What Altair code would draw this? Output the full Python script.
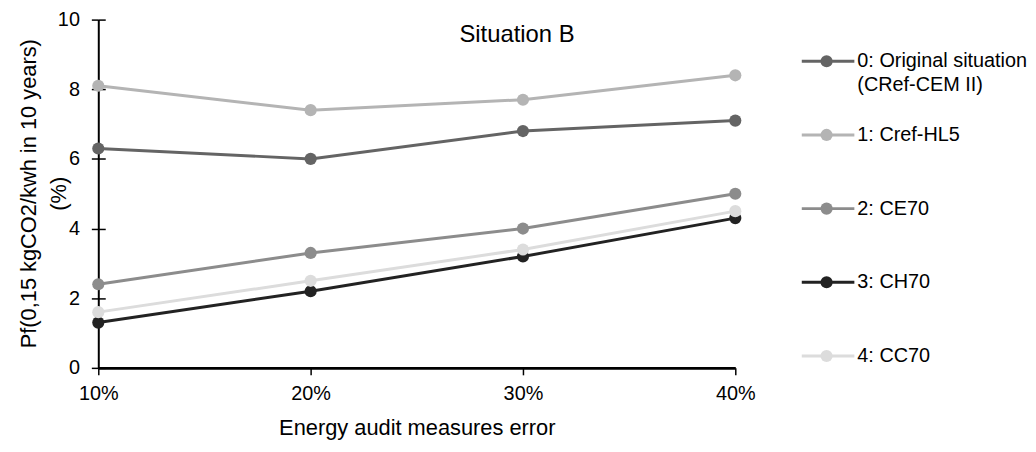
import altair as alt
import pandas as pd

# ---- data ----
errors = [10, 20, 30, 40]
series = ["0: Original situation", "1: Cref-HL5", "2: CE70", "3: CH70", "4: CC70"]
legend_lines = [["0: Original situation", "(CRef-CEM II)"], ["1: Cref-HL5"], ["2: CE70"], ["3: CH70"], ["4: CC70"]]
s0 = [6.3, 6.0, 6.8, 7.1]
s1 = [8.1, 7.4, 7.7, 8.4]
s2 = [2.4, 3.3, 4.0, 5.0]
s3 = [1.3, 2.2, 3.2, 4.3]
s4 = [1.6, 2.5, 3.4, 4.5]
colors = ["#646464", "#b4b4b4", "#8c8c8c", "#222222", "#dcdcdc"]
y_ticks = [0, 2, 4, 6, 8, 10]

rows = []
for i, (name, vals) in enumerate(zip(series, [s0, s1, s2, s3, s4])):
    for e, v in zip(errors, vals):
        rows.append({"series": name, "order": i, "error": e, "value": v})
df = pd.DataFrame(rows)

leg_df = pd.DataFrame({"series": series, "label": legend_lines, "order": list(range(5))})

FONT = "Liberation Sans"
LBL = 20
TTL = 22
DOT = 150
color_scale = alt.Scale(domain=series, range=colors)

x_enc = alt.X("error:Q", scale=alt.Scale(domain=[10, 40], nice=False, zero=False),
              axis=alt.Axis(values=errors, labelExpr="datum.value + '%'", title="Energy audit measures error",
                            grid=False, domainColor="black", domainWidth=3, tickColor="black", tickWidth=1.5,
                            tickSize=7, labelFontSize=LBL, labelPadding=9, titleFontSize=TTL, titlePadding=14,
                            labelColor="black", titleColor="black", labelFont=FONT, titleFont=FONT,
                            titleFontWeight="normal", labelFlush=False))
y_scale = alt.Scale(domain=[0, 10], nice=False)
y_enc = alt.Y("value:Q", scale=y_scale,
              axis=alt.Axis(values=y_ticks, title=["Pf(0,15 kgCO2/kwh in 10 years)", "(%)"], grid=False,
                            domainColor="black", domainWidth=2, tickColor="black", tickWidth=1.5, tickSize=7,
                            labelFontSize=LBL, labelPadding=12, titleFontSize=TTL,
                            labelColor="black", titleColor="black", labelFont=FONT, titleFont=FONT,
                            titleFontWeight="normal", titleLineHeight=30,
                            titleX=-70, titleY=175, titleBaseline="middle", titleAlign="center", titleAngle=-90))

lines = alt.Chart(df).mark_line(strokeWidth=3).encode(
    x=x_enc, y=y_enc,
    color=alt.Color("series:N", scale=color_scale, legend=None),
    order=alt.Order("error:Q"),
)
points = alt.Chart(df).mark_circle(size=DOT, opacity=1).encode(
    x="error:Q", y="value:Q",
    color=alt.Color("series:N", scale=color_scale, legend=None),
)
inner_ticks = alt.Chart(df).mark_point(opacity=0).encode(
    y=alt.Y("value:Q", scale=y_scale,
            axis=alt.Axis(values=y_ticks, orient="left", offset=-7, tickSize=7, tickColor="black", tickWidth=1.5,
                          labels=False, domain=False, title=None, grid=False)),
)

main = alt.layer(alt.layer(lines, points), inner_ticks).resolve_axis(y="independent").properties(
    width=642, height=351,
    title=alt.TitleParams("Situation B", fontSize=24, font=FONT, fontWeight="normal", color="black",
                          anchor="middle", frame="group", dx=101, offset=-50, baseline="middle"),
)

leg_y = alt.Y("series:N", scale=alt.Scale(domain=series, range=[42, 339], type="point", padding=0), axis=None)
leg_rule = alt.Chart(leg_df).mark_rule(strokeWidth=3).encode(
    x=alt.value(0), x2=alt.value(53), y=leg_y,
    color=alt.Color("series:N", scale=color_scale, legend=None),
)
leg_pt = alt.Chart(leg_df).mark_circle(size=DOT, opacity=1).encode(
    x=alt.value(25), y=leg_y,
    color=alt.Color("series:N", scale=color_scale, legend=None),
)
leg_txt = alt.Chart(leg_df).mark_text(align="left", baseline="top", dy=-10, fontSize=LBL, font=FONT,
                                      color="black", lineHeight=24).encode(
    x=alt.value(56), y=leg_y, text="label",
)
legend = alt.layer(leg_rule, leg_pt, leg_txt).properties(width=215, height=351)

chart = alt.hconcat(main, legend, spacing=67, bounds="flush",
                    padding={"left": 10, "top": 0, "right": 0, "bottom": 0}).configure_view(strokeWidth=0)

chart.save("out.html", embed_options={"renderer": "svg", "actions": False})
